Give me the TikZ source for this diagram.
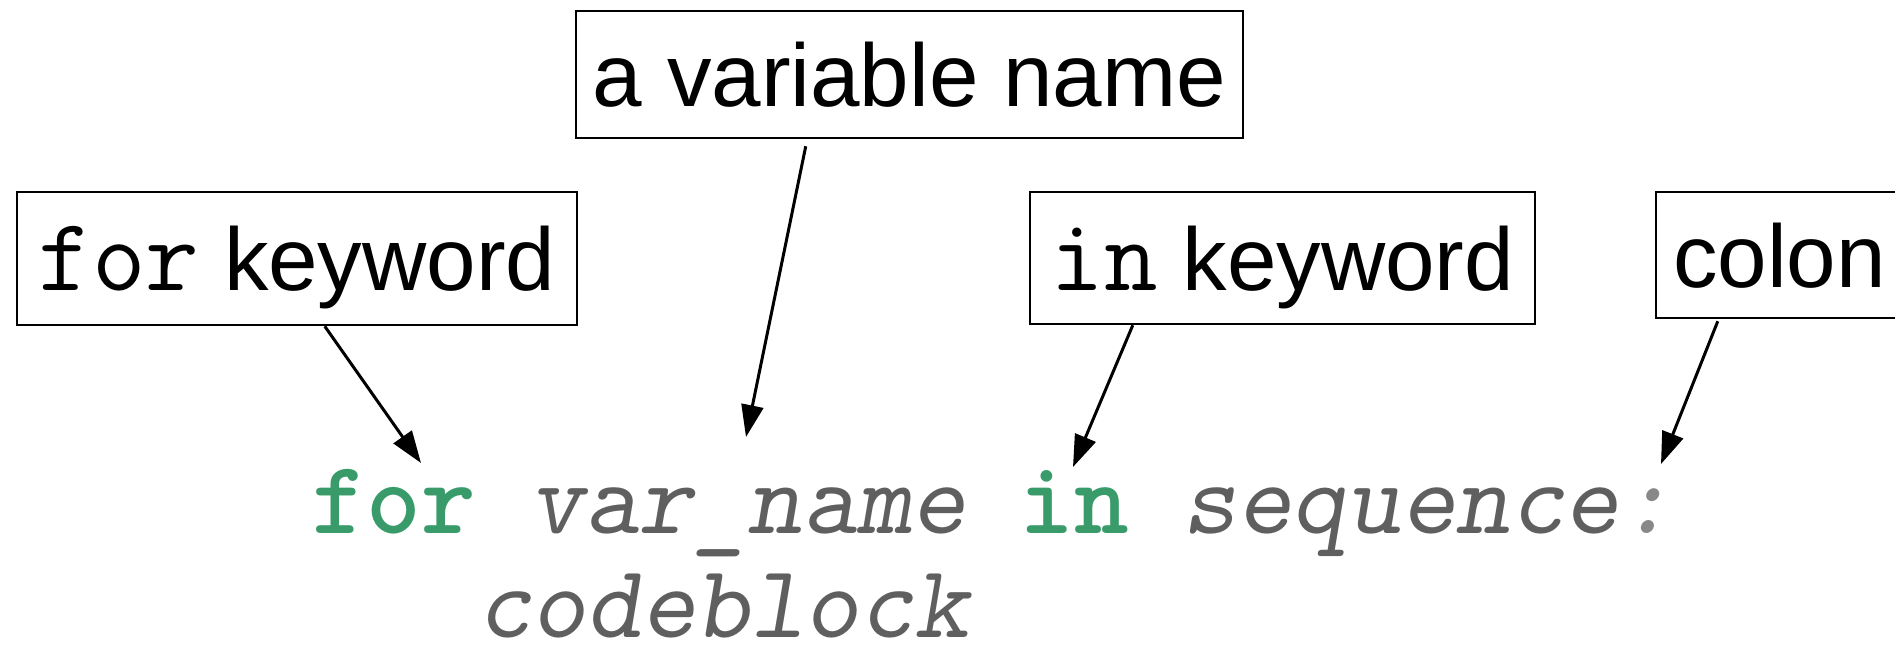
\documentclass[tikz,border=0pt]{standalone}
\usepackage{fontspec}
\setmainfont{Liberation Sans}
\newfontfamily\codefont{Latin Modern Mono}
\newfontfamily\codeboldfont{lmmonolt10-bold}[Extension=.otf]
\newfontfamily\codeslantfont{lmmonoslant10-regular}[Extension=.otf]
\usetikzlibrary{arrows.meta}
\definecolor{kwgreen}{HTML}{3A9B6A}
\definecolor{codegray}{HTML}{5F5F5F}
\definecolor{colongray}{HTML}{888888}
\newcommand\lblsize{\fontsize{89pt}{100pt}\selectfont}
\newcommand\codesize{\fontsize{104pt}{110pt}\selectfont}
\newcommand\kw[1]{{\codefont\codesize #1}}
\newcommand\lowbar{\raisebox{-6pt}{\_}}

\begin{document}
\begin{tikzpicture}[x=1pt,y=-1pt,
  labelbox/.style={draw=black, line width=2.5pt, inner sep=0pt,
    text height=64pt, text depth=0pt, font=\lblsize},
  pointer/.style={line width=3pt, -{Triangle[length=32pt,width=22pt]}},
  codeline/.style={inner sep=0pt, anchor=base west, font=\codefont\codesize}]
\useasboundingbox (0,0) rectangle (1895,648);
\clip (0,0) rectangle (1895,648);

% label boxes
\node[labelbox, minimum width=667pt, minimum height=127pt] (varbox) at (909.5,74.5) {a variable name};
\node[labelbox, minimum width=560pt, minimum height=133pt] (forbox) at (297,258.5) {\kw{for} keyword};
\node[labelbox, minimum width=505pt, minimum height=132pt] (inbox) at (1282.5,258) {\kw{in} keyword};
\node[labelbox, minimum width=247pt, minimum height=126pt] (colonbox) at (1779.5,255) {colon};

% the code
\node[codeline] (code1) at (312,533) {{\codeboldfont\color{kwgreen}for} {\codeslantfont\color{codegray}var\lowbar name} {\codeboldfont\color{kwgreen}in} {\codeslantfont\color{codegray}sequence}{\codeslantfont\color{colongray}:}};
\node[codeline] (code2) at (477,637) {{\codeslantfont\color{codegray}codeblock}};

% arrow tips
\coordinate (fortip) at (421,463);
\coordinate (vartip) at (746,437);
\coordinate (intip) at (1073,467);
\coordinate (colontip) at (1661,464);

% pointers
\draw[pointer] ([xshift=309pt]forbox.south west) -- (fortip);
\draw[pointer] ([xshift=231pt,yshift=-7pt]varbox.south west) -- (vartip);
\draw[pointer] ([xshift=104pt]inbox.south west) -- (intip);
\draw[pointer] ([xshift=63pt,yshift=-2pt]colonbox.south west) -- (colontip);
\end{tikzpicture}
\end{document}
